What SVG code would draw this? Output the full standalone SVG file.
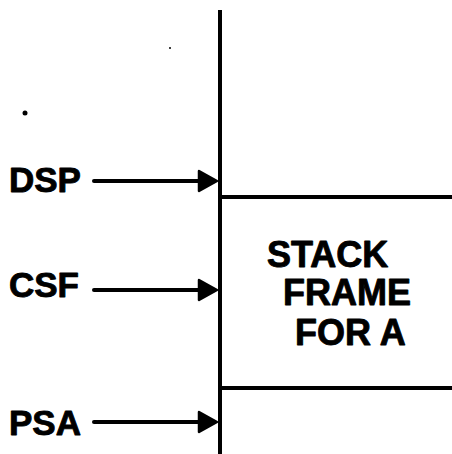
<svg xmlns="http://www.w3.org/2000/svg" width="452" height="454" viewBox="0 0 452 454">
  <defs>
    <style>
      .lbl { font-family: "Liberation Sans", Arial, sans-serif; font-weight: bold; font-size: 35px; fill: #000; stroke: #000; stroke-width: 0.9; stroke-linejoin: round; }
      .big { font-size: 36px; }
      .wall { stroke: #000; stroke-width: 4; fill: none; }
      .ptr { stroke: #000; stroke-width: 4; fill: none; stroke-linecap: round; }
      .head { fill: #000; stroke: #000; stroke-width: 2.5; stroke-linejoin: round; }
    </style>
  </defs>
  <rect width="452" height="454" fill="#fff"/>

  <!-- stack memory: wall and frame boundaries -->
  <g id="stack">
    <line class="wall" x1="220" y1="10" x2="220" y2="454"/>
    <line class="wall" x1="220" y1="197" x2="452" y2="197"/>
    <line class="wall" x1="220" y1="388" x2="452" y2="388"/>
  </g>

  <g id="frame-a">
    <text class="lbl big" x="267" y="267">STACK</text>
    <text class="lbl big" x="283" y="305">FRAME</text>
    <text class="lbl big" x="295" y="345">FOR A</text>
  </g>

  <g id="dsp"><text class="lbl" x="9" y="192">DSP</text></g>
  <g id="csf"><text class="lbl" x="9" y="297">CSF</text></g>
  <g id="psa"><text class="lbl" x="9" y="435">PSA</text></g>

  <!-- pointers into the stack -->
  <g id="connectors">
    <line class="ptr" x1="94" y1="181" x2="202" y2="181"/>
    <polygon class="head" points="199,171 217,181 199,191"/>
    <line class="ptr" x1="94" y1="290" x2="202" y2="290"/>
    <polygon class="head" points="199,280 217,290 199,300"/>
    <line class="ptr" x1="94" y1="422" x2="202" y2="422"/>
    <polygon class="head" points="199,412 217,422 199,432"/>
  </g>

  <!-- specks -->
  <circle cx="25" cy="113" r="2.5" fill="#000"/>
  <circle cx="170" cy="48" r="1" fill="#000"/>
</svg>
